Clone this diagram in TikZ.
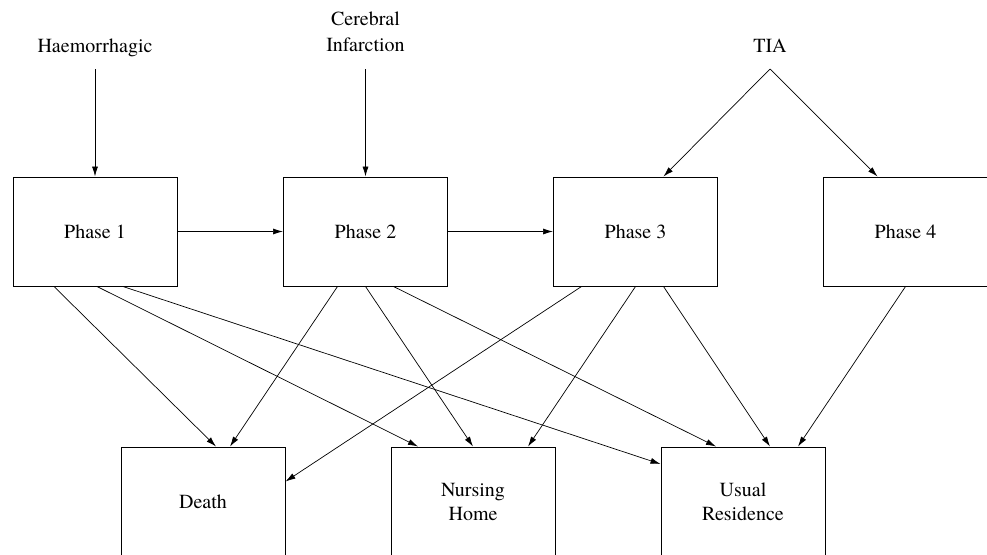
\documentclass[tikz,border=0pt]{standalone}
\usepackage{fontspec}
\setmainfont{TeX Gyre Termes}
\usetikzlibrary{arrows.meta}

\begin{document}
\begin{tikzpicture}[x=1pt, y=-1pt, line width=0.7pt,
    box/.style={draw, line width=1pt, minimum width=164pt, minimum height=109pt, inner sep=0pt, align=center, font=\rmfamily\fontsize{20}{24}\selectfont},
    lbl/.style={inner sep=0pt, align=center, font=\rmfamily\fontsize{20}{26}\selectfont},
    arr/.style={-{Latex[length=10pt, width=6pt]}}]
    \useasboundingbox (0,0) rectangle (987,554);
    \clip (0,0) rectangle (987,554);

    \node[lbl, anchor=base] (haem) at (95,52) {Haemorrhagic};
    \node[lbl, anchor=south] (cereb) at (365.5,52) {Cerebral\\Infarction};
    \node[lbl, anchor=base] (tia) at (770,52) {TIA};

    \node[box] (p1) at (95,231.5) {Phase 1};
    \node[box] (p2) at (365.5,231.5) {Phase 2};
    \node[box] (p3) at (635.5,231.5) {Phase 3};
    \node[box] (p4) at (905.5,231.5) {Phase 4};

    \node[box] (death) at (203,501.5) {Death};
    \node[box] (nursing) at (473,501.5) {Nursing\\Home};
    \node[box] (usual) at (743,501.5) {Usual\\Residence};

    \draw[arr] ([yshift=-17pt]haem.base) -- (p1.north);
    \draw[arr] ([yshift=-17pt]cereb.south) -- (p2.north);
    \draw[arr] ([yshift=-17pt]tia.base) -- ([xshift=28pt]p3.north);
    \draw[arr] ([yshift=-17pt]tia.base) -- ([xshift=-28pt]p4.north);

    \draw[arr] (p1.east) -- (p2.west);
    \draw[arr] (p2.east) -- (p3.west);

    \draw[arr] ([xshift=-41pt]p1.south) -- ([xshift=13pt]death.north);
    \draw[arr] ([xshift=2pt]p1.south) -- ([xshift=-55pt]nursing.north);
    \draw[arr] ([xshift=28pt]p1.south) -- ([yshift=37.5pt]usual.west);

    \draw[arr] ([xshift=-28pt]p2.south) -- ([xshift=27pt]death.north);
    \draw[arr] (p2.south) -- (nursing.north);
    \draw[arr] ([xshift=28pt]p2.south) -- ([xshift=-27pt]usual.north);

    \draw[arr] ([xshift=-54pt]p3.south) -- ([yshift=20pt]death.east);
    \draw[arr] (p3.south) -- ([xshift=55pt]nursing.north);
    \draw[arr] ([xshift=28pt]p3.south) -- ([xshift=27pt]usual.north);

    \draw[arr] (p4.south) -- ([xshift=55pt]usual.north);
\end{tikzpicture}
\end{document}
